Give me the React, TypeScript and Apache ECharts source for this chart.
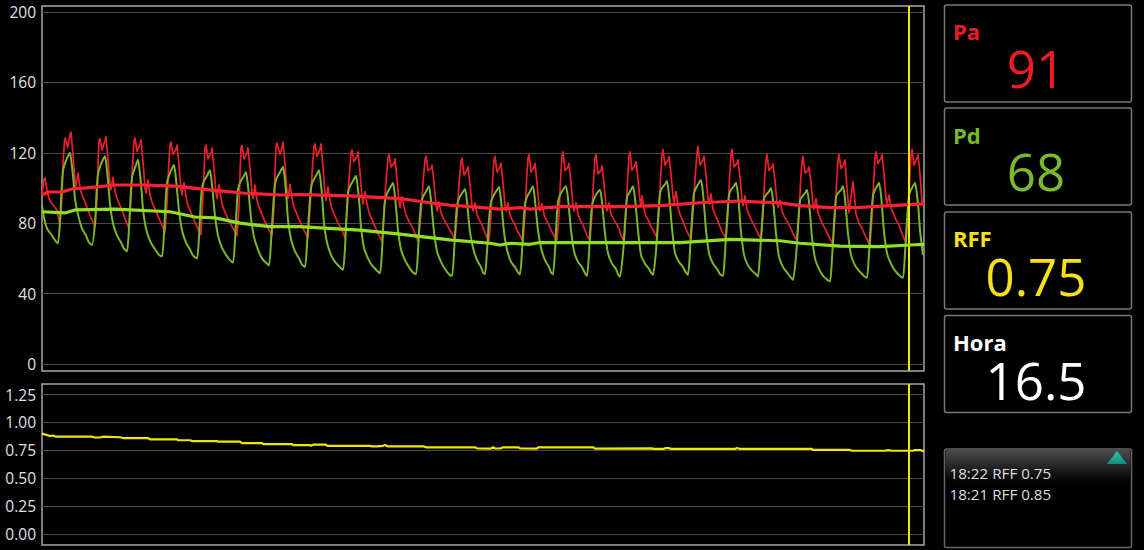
import React, { useEffect, useRef } from "react";
import * as echarts from "echarts";

// [sample, mmHg]
const paWave: number[][] = [
[0,96],[2,105],[3,105.6],[5,99],[7,94],[10,91],[15,87.5],
[18,79],[20,95],[21,114],[22.5,127],[23.5,128.4],[25.5,123],[28,130],[29,131.8],[31,119],[33,104],[34,101],[36,108.5],[38,100],[40,96],[43,92],[46,87.5],[49,83],
[53,78],[55,94],[56,113],[57,127],[58,128],[60,121.6],[63,127],[64,129],[66,116],[68,102],[69,99],[71,106],[73,98],[75,94],[78,90],[81,86],[84,81],
[87,77],[89,93],[90.5,112],[92,127],[93,128.4],[95,120.6],[98,125],[99,127.3],[101,115],[103,100],[104,97],[106,104.5],[108,96],[110,92],[113,88],[116,84],[119,80],
[123,75],[125,91],[126.5,110],[128,125],[129,126],[131,119],[134,122],[135,124.4],[137,113],[139,99],[140,96],[142,103],[144,95],[146,90],[149,86],[152,82],[155,78],
[159,73.5],[160.5,90],[162,108],[163,123],[164,124.4],[166,116.5],[169,120],[170,122.7],[172,111],[174,97],[175,94],[177,101.7],[179,94],[181,89],[184,85],[187,81],[191,77],
[195,73],[197,89],[198,108],[199,123],[200,124],[202,116.5],[205,120],[206,122.7],[208,111],[210,97],[211,94],[213,101.7],[215,93],[217,89],[220,85],[223,81],[226,77],
[230,73],[232,89],[233,109],[234,124],[235,125.5],[238,119],[240,123],[241,126],[243,113],[245,98],[246,94],[248,102],[250,94],[252,89],[255,85],[258,81],[262,76],
[266,72],[268,88],[270,108],[272,124],[273,125],[275,118],[278,122],[279,125],[281,112],[283,97],[284,93],[286,100.5],[288,93],[290,88],[293,84],[296,80],[300,76],
[303,71.6],[305,87],[307,105],[309,120],[310,121.6],[312,115],[315,118],[316,120.5],[318,109],[320,95],[321,91],[323,98],[325,91],[327,86],[330,82],[333,78],[336,74],
[340,69.5],[342,86],[344,104],[346,117],[347,119],[349,112],[352,114],[353,116.5],[355,105],[357,92],[358,89],[360,95],[362,89],[364,85],[367,81],[370,78],[373,74],
[376,69.5],[379,85],[381,103],[383,116],[384,118],[386,110],[389,111],[390,113],[392,103],[394,90],[395,87],[397,92],[399,86],[401,83],[404,80],[407,77],[410,74],
[413,71],[415,84],[417,102],[419,115],[420,117],[422,107.4],[425,110],[426,112],[428,102],[430,90],[431,87],[433,91.6],[435,85],[437,82],[440,79],[442,76],[444,73],
[447,70],[449,84],[450.5,103],[452,116],[453,118],[455,109],[458,112],[459,114],[461,103],[463,90],[464,87],[466,91.6],[468,85],[470,82],[473,79],[475,76],[478,73],
[481,70],[483,85],[484.5,104],[486,117],[487,119],[489,109],[492,112],[493,114],[495,103],[497,90],[498,87],[500,91],[502,85],[504,82],[507,79],[509,76],[512,73],
[515,70.5],[517,85],[518.5,104],[520,118],[521,120.5],[523,110],[526,112],[527,114],[529,103],[531,90],[532,87],[534,91.6],[536,85],[538,82],[541,79],[543,76],[545,73],
[548,70.5],[550,85],[551.5,104],[553,117],[554,119],[556,108],[559,110],[560,112.5],[562,102],[564,90],[565,87],[567,91.6],[569,85],[571,83],[574,80],[577,77],[579,73],
[582,70],[584,85],[585.5,104],[587,118],[588,120.6],[590,110],[593,113],[594,114.8],[596,105],[598,93],[599,90],[600,95.6],[602,88],[604,84],[607,81],[609,78],[612,75],
[615,71.6],[617,86],[618.5,105],[620,119],[621,122],[623,113],[626,116],[627,118],[629,108],[631,95],[632,92],[634,98],[636,89],[638,85],[641,81],[643,78],[646,74],
[649,71],[651,86],[653,105],[655,120],[656,123.5],[658,113],[661,116],[662,118],[664,107],[666,94],[667,91],[669,96.6],[671,88],[673,85],[676,81],[678,78],[681,74],
[684,71.6],[686,86],[687.5,105],[689,119],[690,122],[692,112],[695,114],[696,116],[698,106],[700,93],[701,90],[703,95.6],[705,88],[707,85],[710,81],[713,78],[716,74],
[719,71],[721,85],[722.5,104],[724,116],[725,119],[727,110],[730,112],[731,113.6],[733,104],[735,92],[736,89],[738,93],[740,87],[742,84],[745,81],[748,78],[751,74],
[755,70],[757,84],[758.5,103],[760,115],[761,118],[763,108.5],[766,110],[767,112],[769,103],[771,91],[772,88],[774,94],[776,86],[778,83],[781,79],[784,76],[787,72],
[791,68],[793,83],[794.5,102],[796,116],[797,119],[799,111],[802,114],[803,116],[805,100],[807,86],[809,95],[811,103.6],[813,92],[814,85],[817,80],[820,77],[824,72],
[828,67.5],[830,83],[831.5,102],[833,117],[834,120.6],[836,114],[839,117],[840,118.8],[842,108],[844,94],[845,91],[847,96],[849,89],[851,86],[854,82],[857,79],[860,74],
[864,69],[866,84],[867.5,103],[869,118],[870,122],[872,113],[875,117],[876,118.8],[878,108],[880,92],[882,91],
];

const pdWave: number[][] = [
[0,91],[1,86],[5,77],[10,73],[14,69.5],
[16,68.6],[18,81],[19.5,98],[21,110],[23,114],[25,117],[28,120],[30,112],[31.5,104],[33,94],[36,85],[40,77],[44,73],[47,69],
[50,67.6],[53,80],[54.5,97],[56,108],[58,112],[60,115],[63,118],[65,110],[66.5,101],[68,91],[71,80],[75,73],[79,69],[82,65.5],
[85,64],[87,77],[88.5,94],[90,106],[92,110],[94,113],[96,116],[98,108],[99.5,99],[101,88],[104,77],[108,70],[112,66],[117,62],
[120,61],[122,74],[123.5,91],[125,103],[127,107],[129,110],[132,113],[134,105],[135.5,96],[137,87],[140,76],[144,69],[148,65],[151,61.5],
[155,60],[157,72],[158.5,89],[160,100],[162,104],[165,107],[168,110],[170,102],[171.5,93],[173,84],[176,73],[180,66],[184,62],[188,59],
[191,57.5],[193,70],[194.5,87],[196,99],[198,103],[201,106],[204,109],[206,101],[207.5,92],[209,83],[212,72],[216,65],[220,60],[224,57.5],
[227,56],[229,69],[231,88],[233,102],[235,106],[238,109],[241,112],[243,104],[244.5,94],[246,82],[249,71],[253,64],[257,60],[260,56.5],
[263,55],[265,68],[267,86],[269,100],[271,104],[274,107],[277,110],[279,102],[280.5,92],[282,80],[285,69],[289,62],[293,58],[298,55],
[301,53.5],[303,66],[304.5,84],[306,97],[308,101],[311,104],[314,107],[316,99],[317.5,90],[319,78],[322,66],[326,60],[330,56],[335,53],
[338,51.5],[340,64],[341.5,81],[343,93],[345,97],[348,100],[351,103],[353,95],[354.5,86],[356,76],[359,65],[363,59],[367,55],[371,52],
[374,51],[376,64],[377.5,80],[379,91],[381,95],[384,98],[387,101],[389,93],[390.5,84],[392,75],[395,64],[399,58],[403,54],[407,51],
[410,50],[412,63],[413.5,79],[415,90],[417,94],[420,97],[423,99.4],[425,92],[426.5,83],[428,75],[431,66],[435,59],[439,55],[441,52],
[443,51],[445,64],[447,82],[449,92],[451,95],[454,98],[457,100.5],[459,93],[460.5,84],[462,75],[465,65],[469,58],[473,55],[476,52],
[478,51],[480,64],[481.5,80],[483,91],[485,95],[488,98],[491,101],[493,93],[494.5,84],[496,76],[499,66],[503,59],[507,55],[509,52],
[511,51],[513,64],[514.5,81],[516,92],[518,96],[521,99],[524,101],[526,94],[527.5,85],[529,76],[532,64],[536,58],[540,55],[543,51.5],
[545,50],[547,63],[548.5,79],[550,90],[552,94],[555,97],[558,99],[560,92],[561.5,83],[563,74],[566,63],[570,57],[574,54],[576,51],
[578,49.6],[581,63],[583,80],[585,95],[587,97],[589,99],[591,101],[593,94],[594.5,85],[596,76],[599,62],[603,57],[607,54],[609,52],
[611,50.6],[614,64],[616,82],[618,97],[620,100],[623,102],[625,104],[627,96],[628.5,87],[630,77],[633,63],[637,58],[641,55],[644,52],
[646,50.6],[648,64],[650,83],[652,97],[654,100],[657,103],[659,104.5],[661,97],[662.5,87],[664,76],[667,63],[671,57],[675,54],[678,51],
[681,50],[683,63],[685,82],[687,96],[689,99],[692,101],[694,103],[696,96],[697.5,86],[699,75],[702,62],[706,56],[710,53],[714,51],
[716,49.6],[718,62],[720,80],[722,94],[724,96],[727,98],[729,100],[731,93],[732.5,84],[734,74],[737,61],[741,55],[745,52],[749,49],
[751,47.7],[754,61],[756,79],[758,93],[760,95],[763,97],[765,99],[767,92],[768.5,82],[770,72],[773,60],[777,54],[781,50],[785,48],
[788,46.8],[790,60],[792,80],[794,95],[796,97],[799,99],[801,101],[803,94],[804.5,84],[806,74],[809,62],[813,56],[817,53],[822,50],
[825,49],[827,63],[829,82],[831,96],[833,99],[835,101],[837,103],[839,96],[840.5,86],[842,75],[845,63],[849,57],[853,53],[858,50],
[861,49],[863,63],[865,82],[867,96],[869,99],[871,101],[873,103],[875,96],[876.5,88],[878,76],[881,62],
];

const paMean: number[][] = [
[0,96],[6,97.7],[20,97.7],[30,99.4],[53,100.5],[73,101.7],[103,101.7],[133,101],[163,99.2],[203,97],[238,96],[258,96.3],[308,95.5],[358,94],[388,91.6],[408,90.3],[438,89],[458,88],[478,88.8],[488,88],[518,89.4],[558,89.4],[578,89.4],[618,90],[658,91.6],[698,92.6],[718,92],[738,91.6],[758,90],[788,88.8],[818,89],[858,90.3],[882,91],
];

const pdMean: number[][] = [
[0,86.5],[23,85.8],[33,87.5],[73,88],[128,86.5],[153,83.5],[173,83],[198,80],[228,78],[258,78],[278,77.3],[318,76],[358,73.8],[388,71.8],[408,70.5],[448,68.6],[458,67.6],[468,68.6],[488,68],[498,69],[578,69],[638,69],[688,70.8],[738,70],[758,68.6],[798,67],[838,66.7],[868,67.6],[882,68],
];

const rff: number[][] = [
[0,0.9],[8,0.878],[11,0.882],[14,0.872],[50,0.872],[53,0.865],[58,0.865],[61,0.872],[78,0.867],[81,0.86],[106,0.86],[108,0.848],[135,0.848],[136,0.84],[148,0.84],[150,0.833],[175,0.833],[176,0.827],[198,0.827],[200,0.815],[220,0.815],[221,0.806],[250,0.806],[251,0.797],[268,0.797],[269,0.79],[271,0.8],[284,0.8],[285,0.79],[328,0.79],[330,0.785],[335,0.785],[341,0.79],[343,0.797],[346,0.785],[382,0.785],[384,0.777],[433,0.777],[435,0.768],[449,0.765],[451,0.777],[453,0.766],[459,0.768],[461,0.777],[476,0.777],[478,0.768],[495,0.765],[496,0.777],[551,0.777],[553,0.765],[610,0.768],[611,0.762],[622,0.762],[623,0.77],[627,0.77],[629,0.762],[693,0.762],[695,0.77],[698,0.762],[770,0.762],[771,0.753],[808,0.753],[810,0.746],[843,0.746],[846,0.752],[850,0.746],[871,0.746],[873,0.752],[878,0.752],[882,0.74],
];

const pressureTicks = [0, 40, 80, 120, 160, 200];
const rffTicks = [0, 0.25, 0.5, 0.75, 1, 1.25];
const cursorSample = [866.5];
const readouts = [
  { label: "Pa", value: "91", color: "#ed1c24" },
  { label: "Pd", value: "68", color: "#7ab929" },
  { label: "RFF", value: "0.75", color: "#f4e11a" },
  { label: "Hora", value: "16.5", color: "#ffffff" },
];
const logLines = ["18:22 RFF 0.75", "18:21 RFF 0.85"];

const FONT = '"Open Sans", sans-serif';
const BOXES = [
  { y: 5, h: 97, labelY: 31, valueY: 68 },
  { y: 108, h: 97, labelY: 135, valueY: 171 },
  { y: 212, h: 97, labelY: 238, valueY: 276 },
  { y: 315.5, h: 97, labelY: 342, valueY: 380 },
];

function waveSeries(name: string, data: number[][], color: string, width: number, z: number, smooth = 0) {
  return {
    name, type: "line", data, xAxisIndex: 0, yAxisIndex: 0, showSymbol: false, z, smooth,
    lineStyle: { color, width, join: "round" }, silent: true,
  };
}

function cursor() {
  return {
    silent: true, symbol: "none", animation: false, label: { show: false },
    lineStyle: { color: "#f0e800", width: 2, type: "solid" },
    data: cursorSample.map((xAxis) => ({ xAxis })),
  };
}

export default function App() {
  const ref = useRef<HTMLDivElement>(null);
  useEffect(() => {
    document.body.style.margin = "0";
    document.body.style.background = "#000";
    const chart = echarts.init(ref.current!, null, { renderer: "svg" });
    const axisCommon = {
      axisLine: { show: false },
      axisTick: { show: false },
      splitLine: { show: true, lineStyle: { color: "#4a4a4a", width: 1 } },
    };
    const graphics: any[] = [];
    readouts.forEach((r, i) => {
      const b = BOXES[i];
      graphics.push({
        type: "rect", shape: { x: 944.5, y: b.y, width: 187, height: b.h, r: 2 },
        style: { fill: "#000", stroke: "#777", lineWidth: 1.5 },
      });
      graphics.push({
        type: "text", x: 953, y: b.labelY,
        style: { text: r.label, fill: r.color, font: `700 22px ${FONT}`, lineHeight: 20, textAlign: "left", textVerticalAlign: "middle" },
      });
      graphics.push({
        type: "text", x: 1036, y: b.valueY,
        style: { text: r.value, fill: r.color, font: `400 51px ${FONT}`, lineHeight: 40, textAlign: "center", textVerticalAlign: "middle" },
      });
    });
    graphics.push({
      type: "rect", shape: { x: 944.5, y: 449, width: 187, height: 98.5, r: 2 },
      style: { fill: "#000", stroke: "#666", lineWidth: 1.5 },
    });
    graphics.push({
      type: "rect", shape: { x: 945.5, y: 450, width: 185, height: 32, r: 2 },
      style: {
        fill: new echarts.graphic.LinearGradient(0, 0, 0, 1, [
          { offset: 0, color: "#4c4c4c" },
          { offset: 1, color: "#000000" },
        ]),
      },
    });
    graphics.push({
      type: "polygon", shape: { points: [[1107, 464], [1117, 451], [1127, 464]] },
      style: {
        fill: new echarts.graphic.LinearGradient(0, 0, 0, 1, [
          { offset: 0, color: "#2fc7ae" },
          { offset: 1, color: "#0f8a7a" },
        ]),
      },
    });
    logLines.forEach((t, i) => {
      graphics.push({
        type: "text", x: 949.5, y: 473 + i * 20.5,
        style: { text: t, fill: "#dddddd", font: `400 15.2px ${FONT}`, textAlign: "left", textVerticalAlign: "middle" },
      });
    });

    chart.setOption({
      animation: false,
      backgroundColor: "#000",
      grid: [
        { left: 42, top: 6, width: 882, height: 365, show: true, borderColor: "#a8a8a8", borderWidth: 1.5, backgroundColor: "#000" },
        { left: 42, top: 384, width: 882, height: 161, show: true, borderColor: "#a8a8a8", borderWidth: 1.5, backgroundColor: "#000" },
      ],
      xAxis: [
        { type: "value", gridIndex: 0, min: 0, max: 882, show: false, splitLine: { show: false } },
        { type: "value", gridIndex: 1, min: 0, max: 882, show: false, splitLine: { show: false } },
      ],
      yAxis: [
        {
          type: "value", gridIndex: 0, min: -4, max: 203.4, ...axisCommon,
          axisTick: { show: false, customValues: pressureTicks },
          axisLabel: { customValues: pressureTicks, color: "#e0e0e0", fontFamily: FONT, fontSize: 15.5, margin: 6 },
        },
        {
          type: "value", gridIndex: 1, min: -0.1, max: 1.345, ...axisCommon,
          axisTick: { show: false, customValues: rffTicks },
          axisLabel: {
            customValues: rffTicks, color: "#e0e0e0", fontFamily: FONT, fontSize: 15.5, margin: 6,
            formatter: (v: number) => v.toFixed(2),
          },
        },
      ],
      series: [
        waveSeries("Pa", paWave, "#e8202c", 1.7, 2),
        waveSeries("Pd", pdWave, "#7ab52a", 2, 3, 0.2),
        waveSeries("Pa media", paMean, "#ff2233", 3.2, 4),
        { ...waveSeries("Pd media", pdMean, "#90e020", 3.2, 5), markLine: cursor() },
        {
          name: "RFF", type: "line", data: rff, xAxisIndex: 1, yAxisIndex: 1, showSymbol: false, silent: true,
          lineStyle: { color: "#f0e800", width: 2.2 }, markLine: cursor(),
        },
      ],
      graphic: graphics,
    });
    return () => chart.dispose();
  }, []);
  return <div ref={ref} style={{ position: "absolute", left: 0, top: 0, width: 1144, height: 550 }} />;
}
